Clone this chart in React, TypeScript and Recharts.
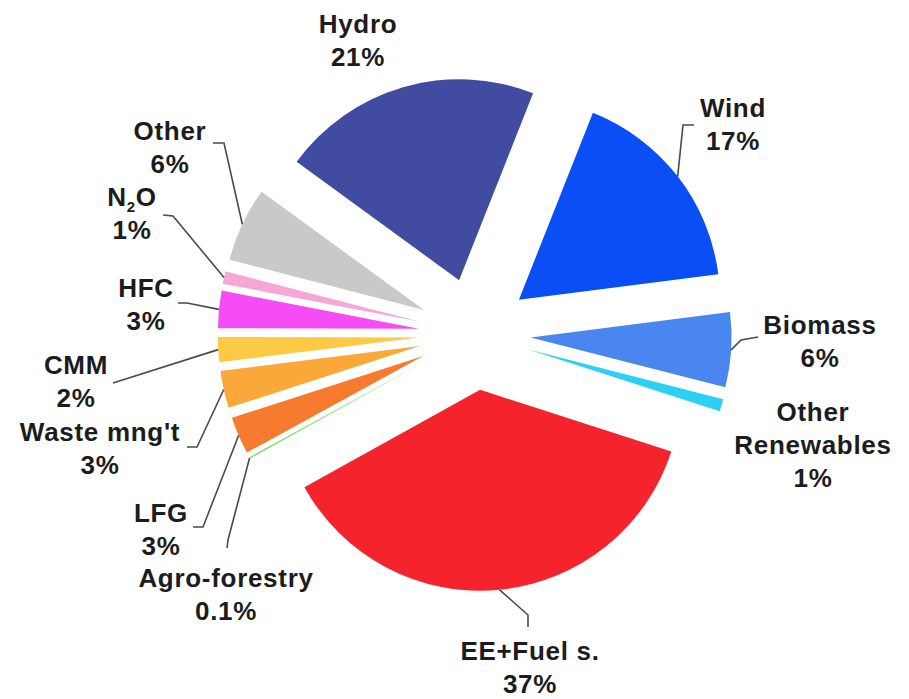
import { PieChart, Pie, Cell, Sector } from "recharts";

// clockwise from the Hydro/Wind boundary
const SOURCES = [
  "Wind",
  "Biomass",
  "Other Renewables",
  "EE+Fuel s.",
  "Agro-forestry",
  "LFG",
  "Waste mng't",
  "CMM",
  "HFC",
  "N2O",
  "Other",
  "Hydro",
];
const SHARES = [17, 6, 1, 37, 0.1, 3, 3, 2, 3, 1, 6, 21];
const COLORS = [
  "#0a4ef5",
  "#4a86f0",
  "#2bd0f5",
  "#f5242c",
  "#5fe04f",
  "#f77b2e",
  "#fba83a",
  "#fcca45",
  "#f64cf5",
  "#f6a7d6",
  "#c9c9c9",
  "#414ba0",
];

// label placement (text centre, leader elbows) – hand placed like the original
const LABEL_LAYOUT: { x: number; y: number; pts: [number, number][]; wrap?: boolean }[] = [
  { x: 733, y: 108, pts: [[683, 125], [694, 125]] },
  { x: 820, y: 325, pts: [[741, 340], [758, 337]] },
  { x: 813, y: 412, pts: [], wrap: true },
  { x: 530, y: 651, pts: [[528, 615], [528, 627]] },
  { x: 226, y: 578, pts: [[228, 540], [227, 548]] },
  { x: 161, y: 513, pts: [[203, 527], [193, 527]] },
  { x: 100, y: 432, pts: [[197, 447], [187, 447]] },
  { x: 76, y: 365, pts: [[113, 383]] },
  { x: 146, y: 288, pts: [[187, 303], [178, 303]] },
  { x: 132, y: 197, pts: [[173, 216], [163, 215]] },
  { x: 170, y: 131, pts: [[224, 143], [213, 143]] },
  { x: 358, y: 24, pts: [] },
];

const EXPLODE = 56;
const RADIUS = 201;
const LINE_GAP = 33;
const RAD = Math.PI / 180;

const data = SOURCES.map((name, i) => ({ name, value: SHARES[i] }));

function shifted(cx: number, cy: number, midAngle: number) {
  return {
    x: cx + EXPLODE * Math.cos(-midAngle * RAD),
    y: cy + EXPLODE * Math.sin(-midAngle * RAD),
  };
}

function renderSlice(props: any) {
  const c = shifted(props.cx, props.cy, props.midAngle);
  return <Sector {...props} cx={c.x} cy={c.y} stroke="none" />;
}

function renderLabel(props: any) {
  const { cx, cy, midAngle, outerRadius, index, name, value } = props;
  const lay = LABEL_LAYOUT[index];
  const c = shifted(cx, cy, midAngle);
  const sx = c.x + outerRadius * Math.cos(-midAngle * RAD);
  const sy = c.y + outerRadius * Math.sin(-midAngle * RAD);
  const lines: string[] = lay.wrap ? name.split(" ") : [name];
  lines.push(`${value}%`);
  const points = [[sx, sy], ...lay.pts].map((p) => p.join(",")).join(" ");

  return (
    <g key={`lbl-${index}`}>
      {lay.pts.length > 0 && (
        <polyline points={points} fill="none" stroke="#4a4a4a" strokeWidth={1.6} />
      )}
      {lines.map((ln, j) => (
        <text
          key={j}
          x={lay.x}
          y={lay.y + j * LINE_GAP + 9}
          textAnchor="middle"
          fill="#1c1c1c"
          fontSize={26}
          fontWeight="bold"
          letterSpacing={0.7}
          fontFamily="'Liberation Sans', Arial, sans-serif"
        >
          {ln === "N2O" ? (
            <>
              N<tspan fontSize={15} dy={6}>2</tspan>
              <tspan dy={-6}>O</tspan>
            </>
          ) : (
            ln
          )}
        </text>
      ))}
    </g>
  );
}

export default function App() {
  return (
    <div style={{ position: "absolute", left: 0, top: 0, width: 909, height: 699, background: "#fff" }}>
      <PieChart width={909} height={699} margin={{ top: 0, right: 0, bottom: 0, left: 0 }}>
        <Pie
          data={data}
          dataKey="value"
          nameKey="name"
          cx={474.7}
          cy={334}
          outerRadius={RADIUS}
          startAngle={68.4}
          endAngle={-291.6}
          stroke="none"
          shape={renderSlice}
          label={renderLabel}
          labelLine={false}
          isAnimationActive={false}
        >
          {data.map((d, i) => (
            <Cell key={d.name} fill={COLORS[i]} />
          ))}
        </Pie>
      </PieChart>
    </div>
  );
}
